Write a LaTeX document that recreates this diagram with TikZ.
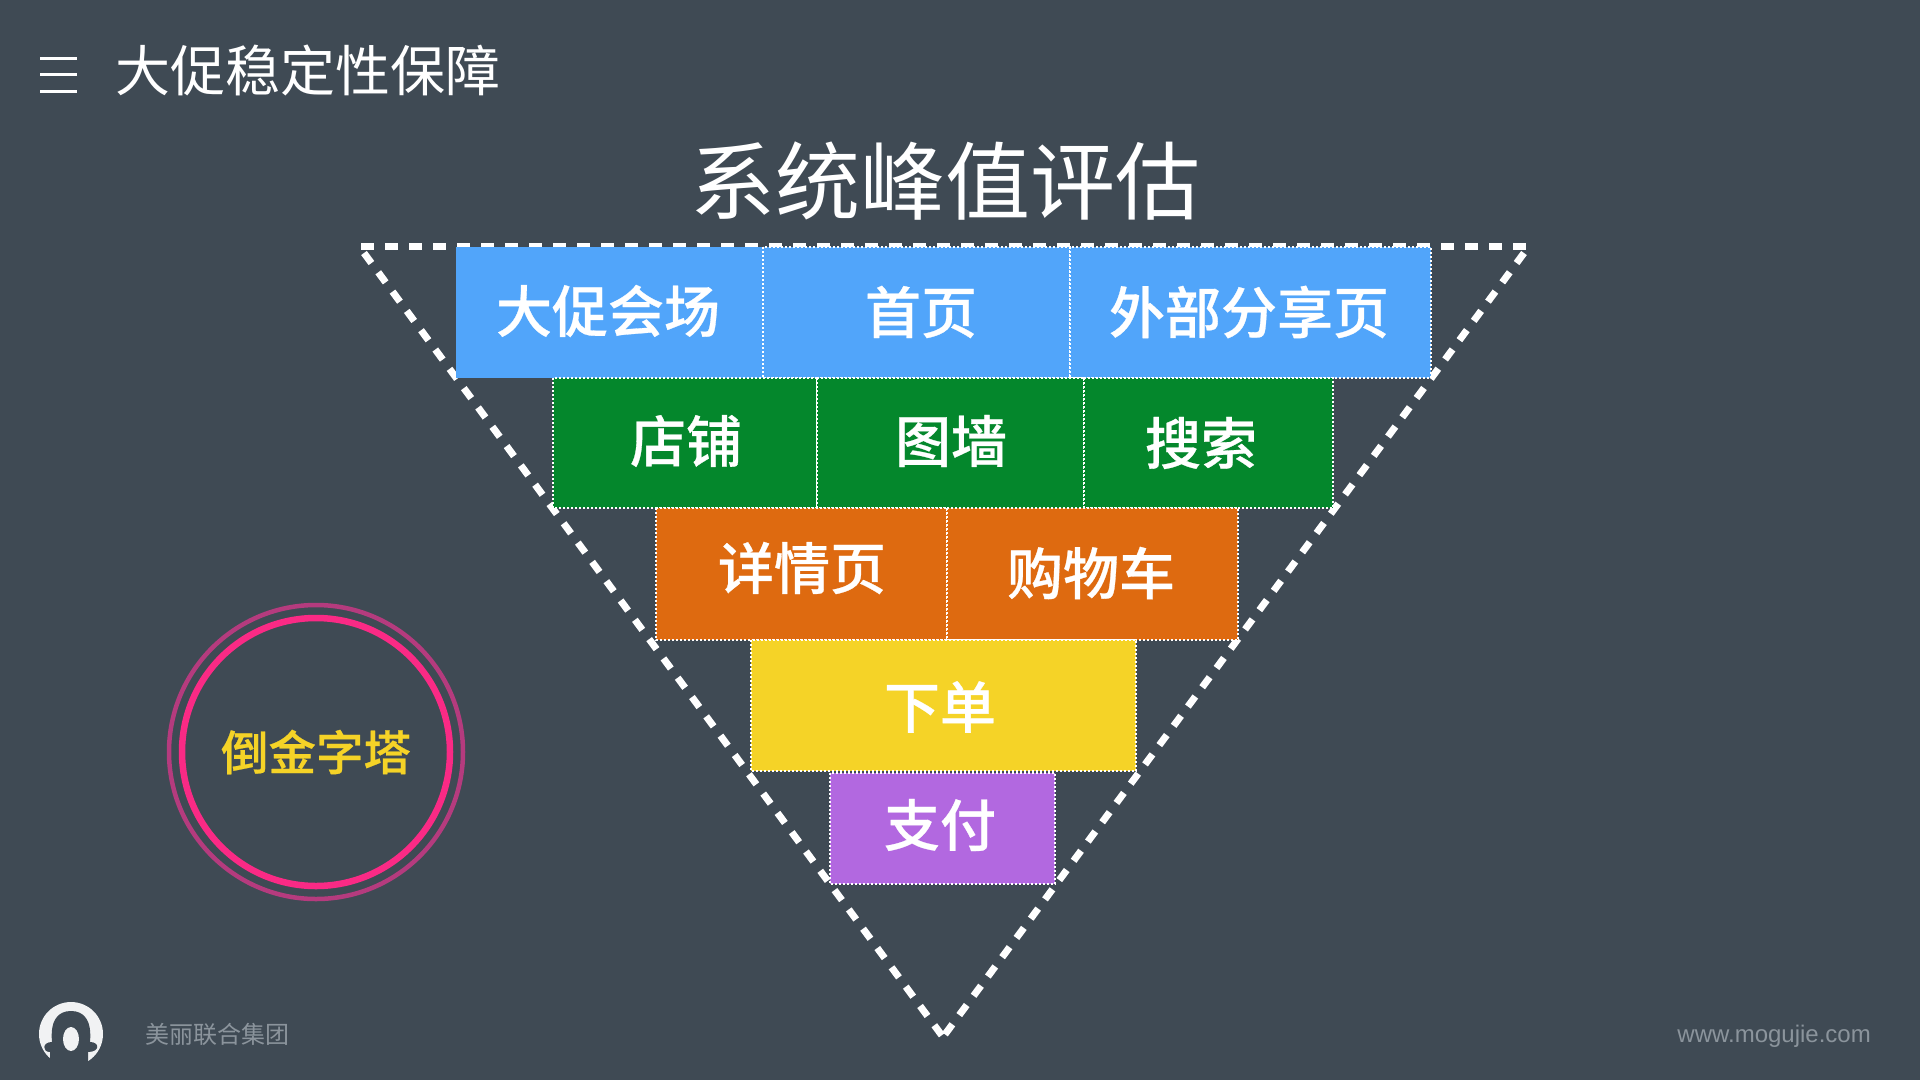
\documentclass[tikz,border=0pt]{standalone}
\usepackage{fontspec}
\setmainfont{Noto Sans CJK SC}
\newfontfamily\latinfont{Liberation Sans}
\newfontfamily\mediumfont[FakeBold=0.5]{Noto Sans CJK SC Medium}
\definecolor{slatebg}{HTML}{3F4A54}
\definecolor{sheetblue}{HTML}{51A5FA}
\definecolor{sheetgreen}{HTML}{04872C}
\definecolor{sheetorange}{HTML}{DE6A10}
\definecolor{sheetyellow}{HTML}{F5D327}
\definecolor{sheetpurple}{HTML}{B268E0}
\definecolor{ringpink}{HTML}{FA2A85}
\definecolor{ringfaded}{HTML}{B53B7E}
\definecolor{footgrey}{HTML}{8B949C}
\tikzset{
  tierline/.style={draw=white,line width=2pt,dash pattern=on 2pt off 2pt},
  tierlabel/.style={text=white,font=\mediumfont\fontsize{56}{60}\selectfont},
  funnelline/.style={draw=white,line width=7pt,dash pattern=on 12.5pt off 11.5pt},
}
\begin{document}
\begin{tikzpicture}[x=1pt,y=-1pt]
  \fill[slatebg] (0,0) rectangle (1920,1080);
  \useasboundingbox (0,0) rectangle (1920,1080);
  % menu and headings
  \foreach \y in {58,74,91}
    \draw[white,line width=3pt] (40,\y)--(77,\y);
  \node[text=white,anchor=west,inner sep=0pt,font=\fontsize{55}{60}\selectfont] (header) at (115,70) {大促稳定性保障};
  \node[text=white,inner sep=0pt,font=\fontsize{85}{90}\selectfont] (title) at (945,181) {系统峰值评估};
  % funnel outline
  \coordinate (topleft) at (361,246);
  \coordinate (topright) at (1526,246);
  \coordinate (leftstart) at (364,253);
  \coordinate (rightstart) at (1524,253);
  \coordinate (apex) at (943,1037);
  \draw[funnelline] (topleft)--(topright);
  \draw[funnelline] (leftstart)--(apex);
  \draw[funnelline] (rightstart)--(apex);
  % tiers
  \fill[sheetblue] (456,247) rectangle (763,378);
  \node[tierlabel] (venue) at (608,311) {大促会场};
  \foreach \nm/\xa/\xb/\ya/\yb/\col in {
    home/763/1070/247/378/sheetblue,
    share/1070/1431/247/378/sheetblue,
    shop/553/817/378/508/sheetgreen,
    wall/817/1084/378/508/sheetgreen,
    search/1084/1333/378/508/sheetgreen,
    detail/656/947/508/640/sheetorange,
    cart/947/1238/508/640/sheetorange,
    order/751/1136/640/771/sheetyellow,
    pay/830/1055/773/884/sheetpurple} {
    \path[fill=\col,tierline] (\xa,\ya) rectangle (\xb,\yb);
  }
  \foreach \nm/\lx/\ly/\lab in {
    home/921/312/首页,
    share/1249/312/外部分享页,
    shop/686/441/店铺,
    wall/951/441/图墙,
    search/1201/443/搜索,
    detail/802/568/详情页,
    cart/1091/573/购物车,
    order/940/707/下单,
    pay/940/825/支付} {
    \node[tierlabel] (\nm) at (\lx,\ly) {\lab};
  }
  % badge
  \draw[ringfaded,line width=4.5pt] (316,752) circle (147);
  \draw[ringpink,line width=6.5pt] (316,752) circle (134);
  \node[text=sheetyellow,font=\mediumfont\fontsize{47.5}{52}\selectfont] (badge) at (316,752) {倒金字塔};
  % logo and footer
  \fill[white!93!slatebg] (71,1034) circle (32);
  \fill[slatebg] (50,1070)--(50,1052) .. controls (42,1052) and (42,1042) .. (52,1042)
    .. controls (50,1020) and (58,1011) .. (71,1011)
    .. controls (84,1011) and (92,1020) .. (90,1042)
    .. controls (100,1042) and (100,1052) .. (88,1052)--(88,1070)--cycle;
  \fill[white!93!slatebg] (71,1039) ellipse (8 and 12);
  \node[text=footgrey,anchor=west,inner sep=0pt,font=\fontsize{24}{28}\selectfont] (group) at (145,1034) {美丽联合集团};
  \node[text=footgrey,anchor=east,inner sep=0pt,font=\latinfont\fontsize{24}{28}\selectfont] (site) at (1871,1036) {www.mogujie.com};
\end{tikzpicture}
\end{document}
